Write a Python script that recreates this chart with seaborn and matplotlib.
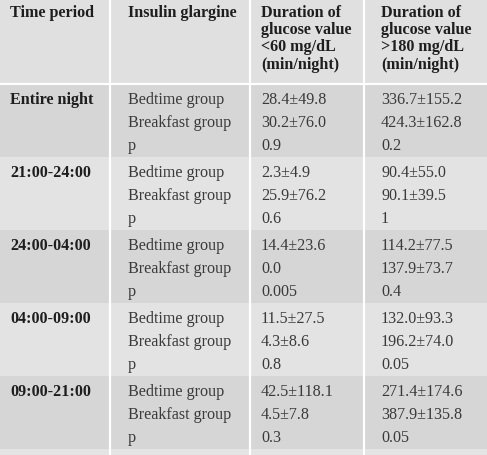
import matplotlib
matplotlib.use("Agg")
import matplotlib.pyplot as plt
import seaborn as sns
import pandas as pd
from matplotlib.patches import Rectangle

# ---- data ----
headers = ["Time period", "Insulin glargine",
           "Duration of\nglucose value\n<60 mg/dL\n(min/night)",
           "Duration of\nglucose value\n>180 mg/dL\n(min/night)"]
periods = ["Entire night", "21:00-24:00", "24:00-04:00", "04:00-09:00", "09:00-21:00"]
groups = ["Bedtime group", "Breakfast group", "p"]
low60 = ["28.4±49.8", "30.2±76.0", "0.9",
         "2.3±4.9", "25.9±76.2", "0.6",
         "14.4±23.6", "0.0", "0.005",
         "11.5±27.5", "4.3±8.6", "0.8",
         "42.5±118.1", "4.5±7.8", "0.3"]
high180 = ["336.7±155.2", "424.3±162.8", "0.2",
           "90.4±55.0", "90.1±39.5", "1",
           "114.2±77.5", "137.9±73.7", "0.4",
           "132.0±93.3", "196.2±74.0", "0.05",
           "271.4±174.6", "387.9±135.8", "0.05"]

sns.set_theme(style="white")
plt.rcParams['font.family'] = ['Liberation Serif', 'DejaVu Serif']

W, H = 487, 455
fig = plt.figure(figsize=(W / 100, H / 100), dpi=100)
ax = fig.add_axes([0, 0, 1, 1])
ax.set_xlim(0, W)
ax.set_ylim(H, 0)
ax.axis("off")

col_edges = [0, 110, 250, 364, 487]
col_text_x = [10, 128, 261, 381]
header_h = 84
group_h = 73
shades = ["#d6d6d6", "#e3e3e3"]
header_col = "#e0e0e0"
txt_dark = "#1e1e1e"
txt_reg = "#3a3a3a"

# background
ax.add_patch(Rectangle((0, 0), W, header_h, color=header_col, lw=0))
for gi in range(len(periods)):
    y0 = header_h + gi * group_h
    ax.add_patch(Rectangle((0, y0), W, group_h, color=shades[gi % 2], lw=0))
y_end = header_h + len(periods) * group_h
ax.add_patch(Rectangle((0, y_end), W, H - y_end, color="#e4e4e4", lw=0))

# white separator lines
ax.plot([0, W], [header_h - 0.5, header_h - 0.5], color="white", lw=1.6)
for xe in col_edges[1:-1]:
    ax.plot([xe, xe], [0, H], color="white", lw=1.6)

fs = 11.6
# header text
for ci, h in enumerate(headers):
    for li, line in enumerate(h.split("\n")):
        ax.text(col_text_x[ci], 16.8 + li * 17.3, line, ha="left", va="baseline",
                fontsize=fs, fontweight="bold", color=txt_dark)

# body
for gi, per in enumerate(periods):
    y0 = header_h + gi * group_h
    ax.text(col_text_x[0], y0 + 19.8, per, ha="left", va="baseline", fontsize=fs,
            fontweight="bold", color=txt_dark)
    for ri, g in enumerate(groups):
        yy = y0 + 19.8 + ri * 23
        k = gi * 3 + ri
        ax.text(col_text_x[1], yy, g, ha="left", va="baseline", fontsize=fs, color=txt_reg)
        ax.text(col_text_x[2], yy, low60[k], ha="left", va="baseline", fontsize=fs, color=txt_reg)
        ax.text(col_text_x[3], yy, high180[k], ha="left", va="baseline", fontsize=fs, color=txt_reg)

fig.savefig("out.png", dpi=100)
